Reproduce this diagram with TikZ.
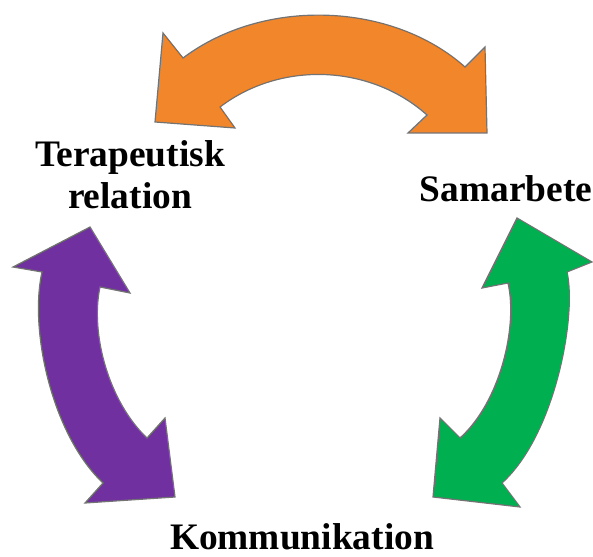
\documentclass[tikz,border=0pt]{standalone}
\usepackage{fontspec}
\setmainfont{Liberation Serif}
\usepackage{tikz}
\definecolor{arroworange}{RGB}{242,134,42}
\definecolor{arrowpurple}{RGB}{112,48,160}
\definecolor{arrowgreen}{RGB}{0,176,80}
\tikzstyle{concept} = [font=\fontsize{26.6}{29.8}\selectfont\bfseries,
                       align=center, inner sep=0pt]
\tikzstyle{twoway} = [draw=black!55, line width=0.3mm, line join=miter]

\begin{document}
\begin{tikzpicture}[x=0.025cm, y=-0.025cm]
        \useasboundingbox (0,0) rectangle (593,557);

        %Concepts
        \node (Relation) [concept, anchor=center] at (130,175) {Terapeutisk\\relation};
        \node (Samarbete) [concept, anchor=base] at (506,202) {Samarbete};
        \node (Kommunikation) [concept, anchor=base] at (302,549) {Kommunikation};

        %Orange arrow, top
        \filldraw [twoway, fill=arroworange] (183,58) .. controls (264,-3) and (392,2) .. (465,67)
            -- (485,47) -- (487,133) -- (408,133) -- (427,115)
            .. controls (371,65) and (282,60) .. (220,107)
            -- (235,128) -- (155,122) -- (163,33) -- cycle;

        %Purple arrow, left
        \filldraw [twoway, fill=arrowpurple] (42,272) .. controls (29,330) and (52,435) .. (103,483)
            -- (85,503) -- (175,497) -- (165,418) -- (147,438)
            .. controls (109,402) and (90,334) .. (100,287)
            -- (130,293) -- (90,227) -- (13,267) -- cycle;

        %Green arrow, right
        \filldraw [twoway, fill=arrowgreen] (567,272) .. controls (577,316) and (555,435) .. (502,483)
            -- (520,507) -- (433,497) -- (440,418) -- (460,438)
            .. controls (500,402) and (518,327) .. (508,283)
            -- (482,288) -- (517,218) -- (592,262) -- cycle;

    \end{tikzpicture}
\end{document}
